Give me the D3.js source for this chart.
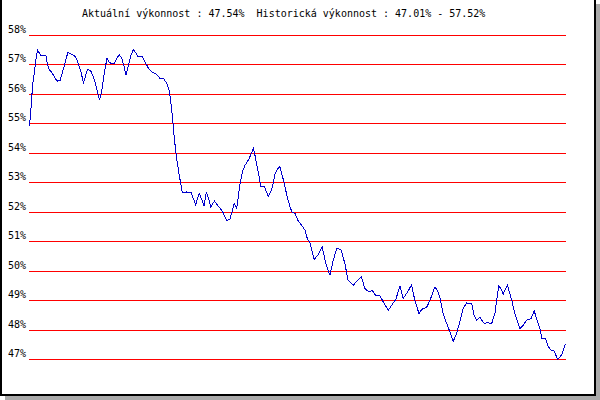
<!DOCTYPE html>
<html>
<head>
<meta charset="utf-8">
<script src="https://cdn.jsdelivr.net/npm/d3@7"></script>
<style>
  html, body { margin: 0; padding: 0; background: #fff; }
  svg { display: block; }
  text { font-family: "DejaVu Sans Mono", monospace; font-size: 10px; fill: #000; white-space: pre; }
</style>
</head>
<body>
<svg id="chart" width="600" height="400"></svg>
<script>
// ---- data ----
const days = [0,0.5,0.8,1.1,1.6,1.9,2.2,2.7,3.2,3.8,5.5,6.0,6.6,7.5,8.4,9.2,10.3,11.1,12.0,12.9,13.7,14.8,15.6,16.4,17.3,18.1,18.7,19.5,20.6,21.5,22.3,23.0,23.5,24.3,25.1,26.0,26.7,27.4,28.5,29.3,30.1,31.0,31.8,32.4,33.2,34.1,34.9,35.7,36.4,37.7,38.8,39.9,41.1,42.2,43.0,43.9,45.0,46.1,46.9,47.4,48.0,48.7,49.5,50.2,50.8,51.3,52.0,52.8,54.3,55.0,55.8,57.0,57.9,58.6,59.4,60.1,60.9,62.1,63.4,64.8,66.2,67.3,68.3,68.8,69.6,70.7,71.5,72.4,73.5,74.4,75.2,75.7,76.6,77.7,78.9,80.2,81.3,82.5,83.2,84.1,84.7,85.6,86.4,87.5,88.1,89.2,90.1,91.4,92.5,93.4,94.0,94.8,95.6,97.0,98.3,99.5,100.9,102.0,103.2,104.6,105.9,107.0,108.7,110.4,111.5,112.6,114.0,115.1,116.2,117.7,119.1,120.5,121.6,123.0,124.4,125.5,127.2,128.3,129.4,130.8,131.7,133.4,134.5,136.1,137.0,137.8,138.9,140.1,141.2,142.3,143.4,144.5,145.6,146.8,148.5,149.3,150.1,151.2,152.7,153.8,155.2,156.3,156.8,157.6,158.3,159.1,159.9,160.5,161.3,162.1,163.0,163.9,164.7,165.8,166.9,168.4,169.5,170.3,171.4,172.1,173.3,174.2,175.3,176.2,177.3,178.1,178.9,180.0];
const values = [54.92,55.52,55.97,56.37,56.71,56.99,57.22,57.50,57.42,57.33,57.32,57.05,56.85,56.74,56.59,56.45,56.48,56.76,57.10,57.43,57.39,57.33,57.25,57.05,56.76,56.40,56.59,56.85,56.79,56.59,56.31,56.03,55.80,56.14,56.71,57.22,57.10,57.05,57.05,57.22,57.35,57.22,56.93,56.65,56.99,57.33,57.52,57.41,57.27,57.30,57.10,56.90,56.76,56.71,56.65,56.53,56.54,56.37,56.14,55.80,55.24,54.44,53.77,53.31,52.97,52.69,52.66,52.69,52.66,52.47,52.26,52.64,52.41,52.20,52.69,52.47,52.18,52.38,52.21,52.03,51.73,51.75,52.13,52.30,52.13,52.97,53.37,53.60,53.77,53.97,54.16,53.94,53.48,52.88,52.86,52.54,52.75,53.31,53.45,53.56,53.31,52.97,52.58,52.18,52.01,51.96,51.73,51.56,51.39,51.07,51.02,50.71,50.39,50.57,50.82,50.26,49.86,50.37,50.77,50.73,50.26,49.69,49.52,49.71,49.80,49.41,49.29,49.35,49.18,49.16,48.90,48.67,48.84,49.04,49.49,49.07,49.33,49.54,49.01,48.56,48.70,48.78,49.01,49.45,49.35,49.11,48.56,48.22,47.94,47.62,47.88,48.28,48.73,48.92,48.90,48.50,48.33,48.44,48.22,48.25,48.22,48.56,48.95,49.49,49.41,49.22,49.41,49.52,49.24,48.95,48.56,48.28,48.05,48.16,48.33,48.39,48.65,48.39,48.05,47.71,47.71,47.43,47.31,47.29,47.01,47.07,47.20,47.54];
const gridLevels = [47,48,49,50,51,52,53,54,55,56,57,58];
const tickLabels = gridLevels.map(v => v + "%");
const currentLabel = "Aktuální výkonnost";
const currentValue = "47.54%";
const historyLabel = "Historická výkonnost";
const historyMin = "47.01%";
const historyMax = "57.52%";

// ---- drawing ----
const svg = d3.select("#chart");
const W = 600, H = 400;

// shadow + frame
svg.append("rect").attr("x", 5).attr("y", 4).attr("width", W - 5).attr("height", H - 4)
  .attr("fill", "#aaaaaa").attr("shape-rendering", "crispEdges");
svg.append("rect").attr("x", 1).attr("y", -3).attr("width", 594).attr("height", 398)
  .attr("fill", "#ffffff").attr("stroke", "#000").attr("stroke-width", 2)
  .attr("shape-rendering", "crispEdges");

const x = d3.scaleLinear().domain([0, 180]).range([29.5, 565.5]);
const y = d3.scaleLinear().domain([47, 58]).range([359.5, 35.5]);

// grid lines
svg.append("g").selectAll("line").data(gridLevels).join("line")
  .attr("x1", 29).attr("x2", 566)
  .attr("y1", d => y(d)).attr("y2", d => y(d))
  .attr("stroke", "#ff0000").attr("stroke-width", 1)
  .attr("shape-rendering", "crispEdges");

// tick labels
svg.append("g").selectAll("text").data(gridLevels).join("text")
  .attr("x", 26).attr("y", d => y(d) - 2.5)
  .attr("text-anchor", "end")
  .text((d, i) => tickLabels[i]);

// title
svg.append("text").attr("x", 82).attr("y", 17)
  .text(`${currentLabel} : ${currentValue}  ${historyLabel} : ${historyMin} - ${historyMax}`);

// series line
const pts = days.map((d, i) => [d, values[i]]);
svg.append("path").datum(pts)
  .attr("fill", "none").attr("stroke", "#0000cc").attr("stroke-width", 1)
  .attr("shape-rendering", "crispEdges")
  .attr("d", d3.line().x(d => x(d[0])).y(d => y(d[1])));
</script>
</body>
</html>
